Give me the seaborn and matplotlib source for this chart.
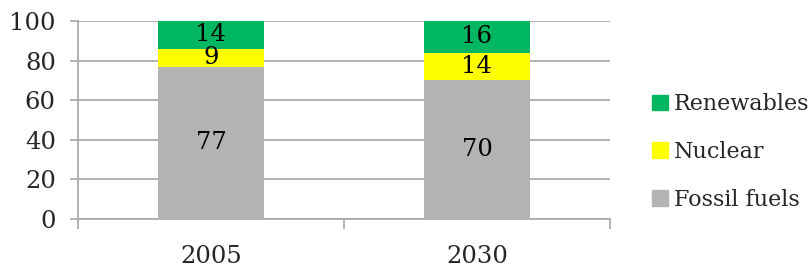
import matplotlib
matplotlib.use('Agg')
import matplotlib.pyplot as plt
from matplotlib.patches import Patch
import numpy as np
import pandas as pd
import seaborn as sns

YEARS = ['2005', '2030']
FOSSIL = [77, 70]
NUCLEAR = [9, 14]
RENEWABLES = [14, 16]
Y_TICKS = [0, 20, 40, 60, 80, 100]

COLOURS = {
    'Renewables': '#00B660',
    'Nuclear': '#FFFF00',
    'Fossil fuels': '#B3B3B3',
}
GRID = '#A6A6A6'
FONT = 17.5
LEGEND_FONT = 16


def main():
    sns.set_style('white')
    plt.rcParams['font.family'] = ['DejaVu Serif']

    df = pd.DataFrame({
        'Year': YEARS,
        'Fossil fuels': FOSSIL,
        'Nuclear': NUCLEAR,
        'Renewables': RENEWABLES,
    })
    stack = ['Fossil fuels', 'Nuclear', 'Renewables']
    tops = df[stack].cumsum(axis=1)
    bottoms = tops - df[stack]

    fig = plt.figure(figsize=(8.11, 2.72), dpi=100)
    ax = fig.add_axes([78 / 811, 53 / 272, 532 / 811, 198 / 272])

    # draw tallest cumulative layer first so lower ones sit on top of it
    for name in reversed(stack):
        sns.barplot(x=df['Year'], y=tops[name], color=COLOURS[name],
                    width=0.4, saturation=1, linewidth=0, ax=ax, zorder=3)

    for name in stack:
        for i, v in enumerate(df[name]):
            ax.text(i, bottoms[name][i] + v / 2, str(v), ha='center',
                    va='center', fontsize=FONT, color='black', zorder=4)

    ax.set_xlim(-0.5, 1.5)
    ax.set_ylim(0, 100)
    ax.set_yticks(Y_TICKS)
    ax.set_xlabel('')
    ax.set_ylabel('')
    ax.yaxis.grid(True, color=GRID, linewidth=1.2, zorder=0)
    ax.set_axisbelow(True)
    for side in ['top', 'right']:
        ax.spines[side].set_visible(False)
    for side in ['left', 'bottom']:
        ax.spines[side].set_color(GRID)
        ax.spines[side].set_linewidth(1.2)

    ax.tick_params(axis='y', which='major', length=6, width=1.2,
                   color=GRID, pad=10, labelsize=FONT, left=True)
    ax.tick_params(axis='x', which='major', length=0, pad=19,
                   labelsize=FONT)
    ax.set_xticks([-0.5, 0.5, 1.5], minor=True)
    ax.tick_params(axis='x', which='minor', length=7, width=1.2,
                   color=GRID, bottom=True)

    handles = [Patch(color=COLOURS[n], label=n) for n in reversed(stack)]
    fig.legend(handles=handles, loc='center left',
               bbox_to_anchor=(652 / 811, 120 / 272), frameon=False,
               fontsize=LEGEND_FONT, handlelength=0.7, handleheight=0.7,
               handletextpad=0.3, labelspacing=1.15, borderpad=0,
               borderaxespad=0)

    fig.savefig('out.png', dpi=100)


if __name__ == '__main__':
    main()
